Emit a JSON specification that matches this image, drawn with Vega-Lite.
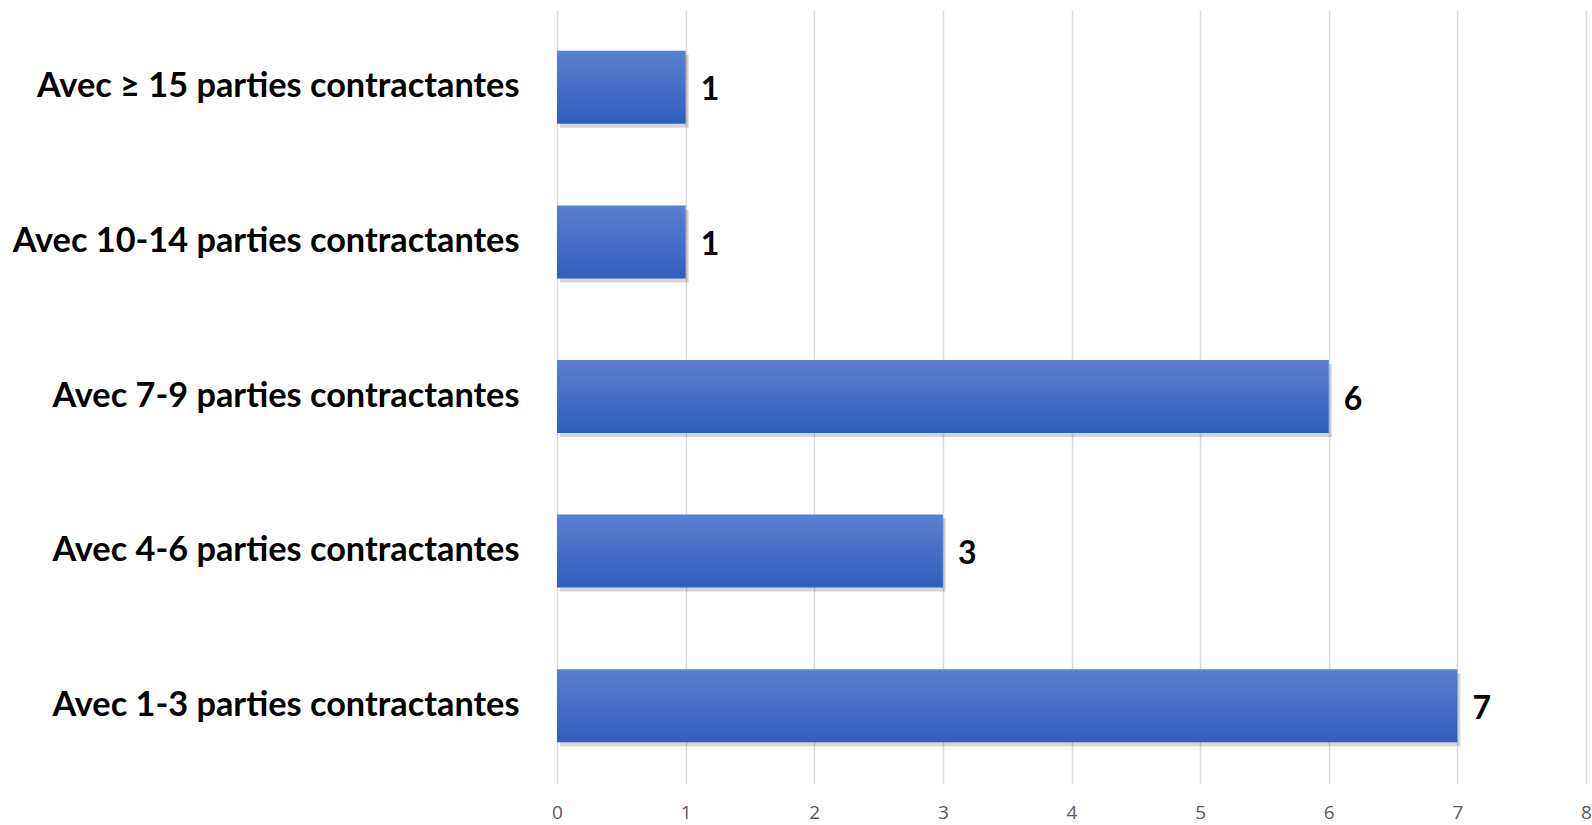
{
  "$schema": "https://vega.github.io/schema/vega-lite/v6.json",
  "width": 1029,
  "height": 773,
  "autosize": "none",
  "padding": {"left": 557, "top": 10, "right": 6, "bottom": 42},
  "background": "white",
  "config": {"view": {"stroke": null}},
  "data": {"values": [
    {"cat": "Avec ≥ 15 parties contractantes", "n": 1},
    {"cat": "Avec 10-14 parties contractantes", "n": 1},
    {"cat": "Avec 7-9 parties contractantes", "n": 6},
    {"cat": "Avec 4-6 parties contractantes", "n": 3},
    {"cat": "Avec 1-3 parties contractantes", "n": 7}
  ]},
  "encoding": {
    "y": {"field": "cat", "type": "nominal", "sort": null,
      "scale": {"paddingInner": 0.528, "paddingOuter": 0.264},
      "axis": {"title": null, "domain": false, "ticks": false, "labelPadding": 38,
        "labelFont": "Lato", "labelFontWeight": "bold", "labelFontSize": 34.3, "labelColor": "#000000", "labelLimit": 600}},
    "x": {"field": "n", "type": "quantitative",
      "scale": {"domain": [0, 8], "nice": false},
      "axis": {"title": null, "domain": false, "ticks": false, "values": [0,1,2,3,4,5,6,7,8],
        "labelOverlap": false,
        "grid": true, "gridColor": "#d9d9d9", "gridWidth": 1.5,
        "labelPadding": 20, "labelFont": "Open Sans", "labelFontSize": 19, "labelColor": "#595959", "labelFlush": false}}
  },
  "layer": [
    {"mark": {"type": "bar", "color": "#000000", "opacity": 0.16, "xOffset": 3, "yOffset": 4}},
    {"mark": {"type": "bar", "color": {"gradient": "linear", "x1": 0, "y1": 0, "x2": 0, "y2": 1,
      "stops": [{"offset": 0, "color": "#5b80cf"}, {"offset": 1, "color": "#2e5ebe"}]}}},
    {"mark": {"type": "text", "align": "left", "baseline": "middle", "dx": 15, "dy": 3,
      "font": "Lato", "fontWeight": "bold", "fontSize": 32, "color": "#000000"},
     "encoding": {"text": {"field": "n", "type": "quantitative"}}}
  ]
}
